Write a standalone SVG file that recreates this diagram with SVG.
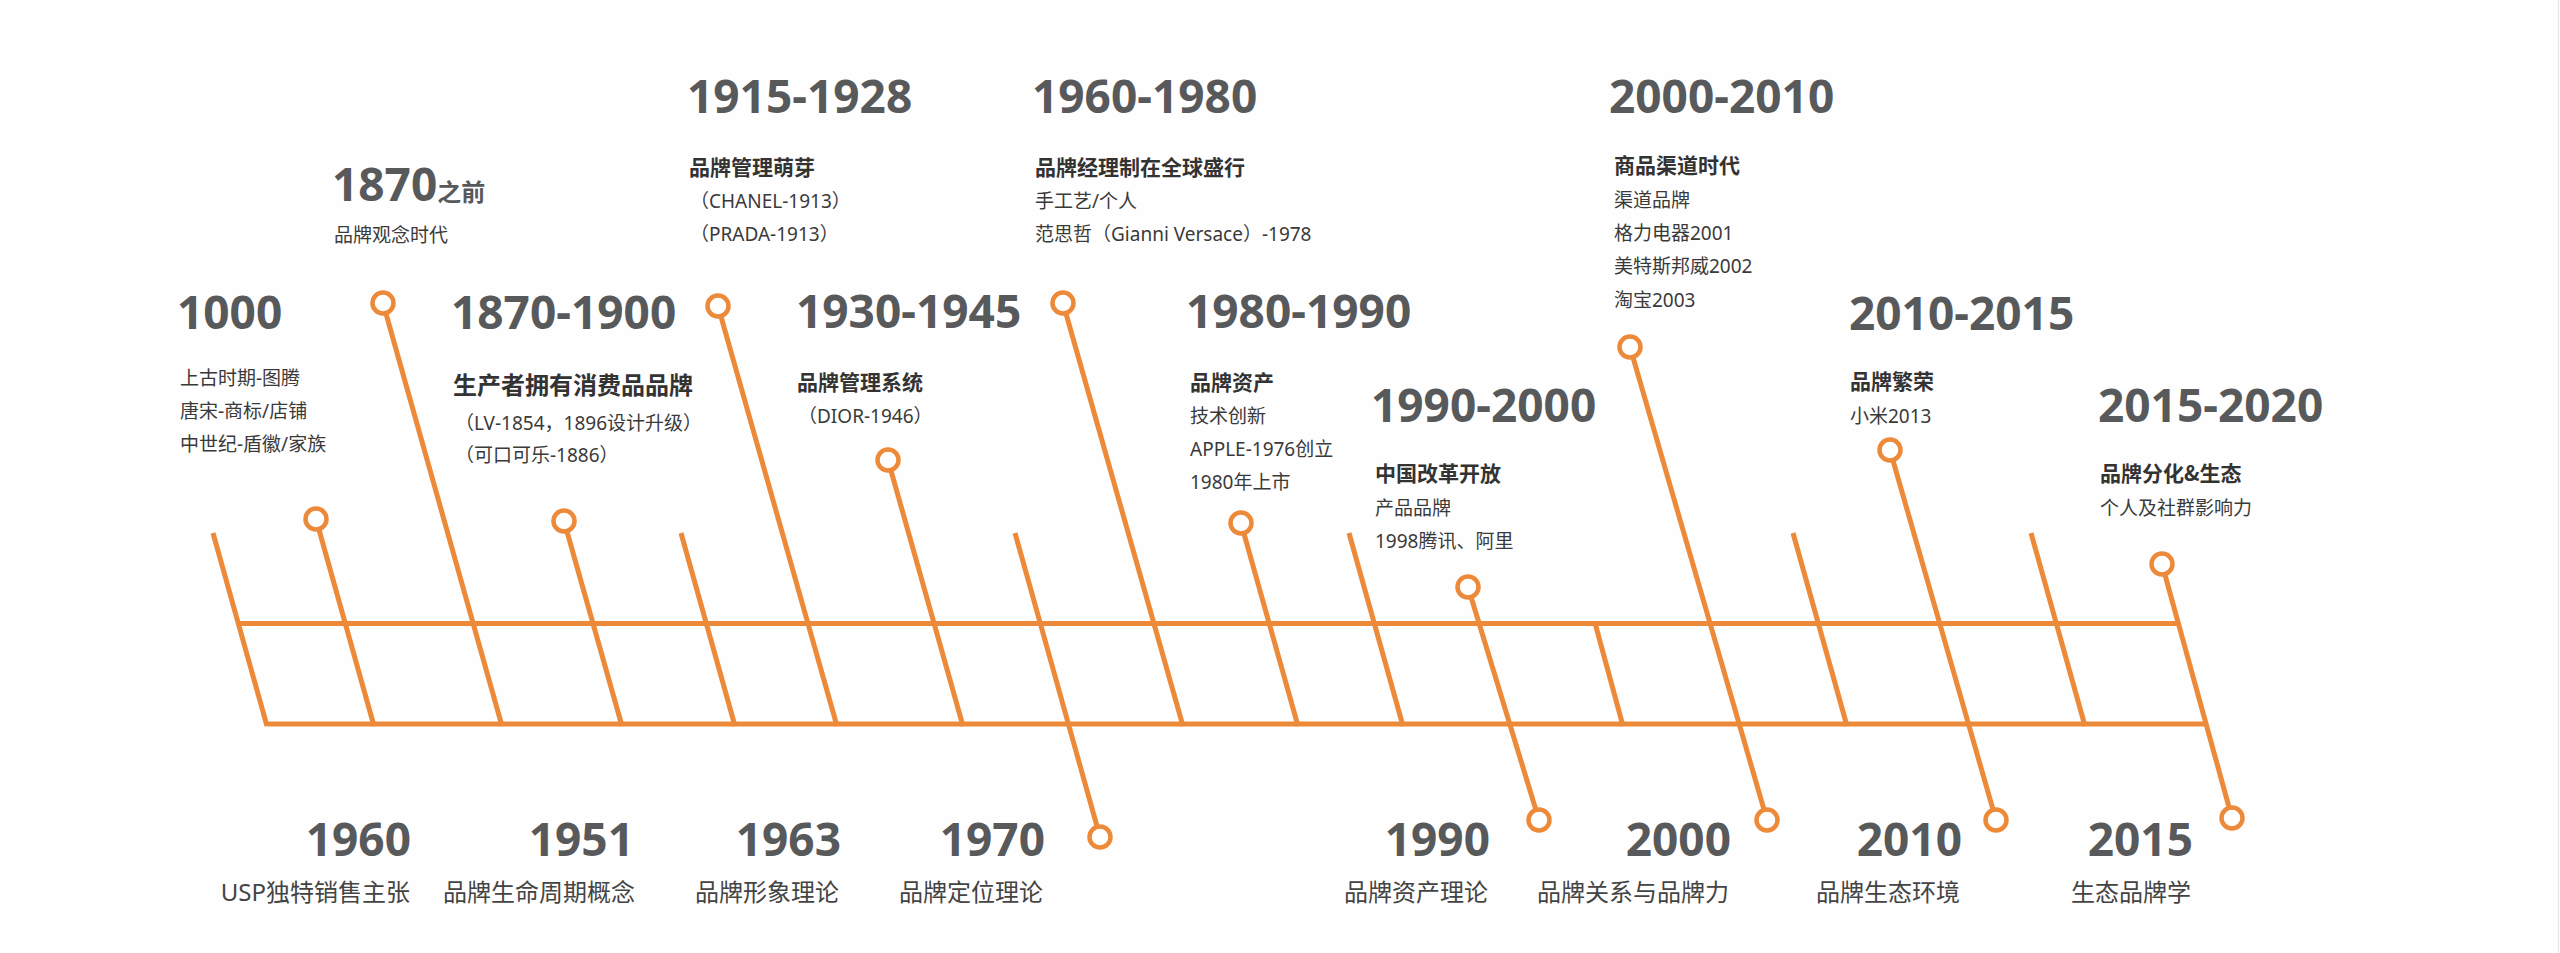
<svg xmlns="http://www.w3.org/2000/svg" width="2560" height="953" viewBox="0 0 2560 953">
<style>
.ln{stroke:#ED8A3A;stroke-width:5;fill:none;stroke-linecap:butt}
.dot{stroke:#ED8A3A;stroke-width:4.5;fill:#fff}
.yr{font-family:"Noto Sans","Noto Sans CJK SC",sans-serif;font-weight:700;font-size:46px;fill:#58595b}
.yrs{font-size:24px}
.hd{font-family:"Noto Sans CJK SC","Noto Sans",sans-serif;font-weight:700;font-size:21px;fill:#333}
.hdl{font-size:24px}
.tx{font-family:"Noto Sans","Noto Sans CJK SC",sans-serif;font-size:19px;fill:#3a3a3a}
.bl{font-family:"Noto Sans","Noto Sans CJK SC",sans-serif;font-size:24px;fill:#444;text-anchor:end}
.end{text-anchor:end}
</style>
<rect width="2560" height="953" fill="#fefefe"/>
<line x1="2558.5" y1="0" x2="2558.5" y2="953" stroke="#e6e6e6" stroke-width="1"/>

<g id="connectors">
<line class="ln" x1="240" y1="623.5" x2="2177" y2="623.5"/>
<line class="ln" x1="267" y1="724" x2="2206" y2="724"/>
<line class="ln" x1="213" y1="533" x2="267" y2="726"/>
<line class="ln" x1="681" y1="533" x2="735" y2="726"/>
<line class="ln" x1="1349" y1="533" x2="1403" y2="726"/>
<line class="ln" x1="1793" y1="533" x2="1847" y2="726"/>
<line class="ln" x1="2031" y1="533" x2="2085" y2="726"/>
<line class="ln" x1="1595" y1="623" x2="1623" y2="726"/>
<line class="ln" x1="316" y1="519" x2="374" y2="726"/>
<line class="ln" x1="383" y1="303" x2="502" y2="726"/>
<line class="ln" x1="564" y1="521" x2="622" y2="726"/>
<line class="ln" x1="718" y1="306" x2="837" y2="726"/>
<line class="ln" x1="888" y1="460" x2="963" y2="726"/>
<line class="ln" x1="1063" y1="303" x2="1183" y2="726"/>
<line class="ln" x1="1241" y1="523" x2="1298" y2="726"/>
<line class="ln" x1="1015" y1="533" x2="1100" y2="837"/>
<line class="ln" x1="1468" y1="587" x2="1539" y2="820"/>
<line class="ln" x1="1630" y1="347" x2="1767" y2="820"/>
<line class="ln" x1="1890" y1="450" x2="1996" y2="820"/>
<line class="ln" x1="2162" y1="564" x2="2232" y2="818"/>
</g>

<g id="n1000">
<circle class="dot" cx="316" cy="519" r="10.5"/>
<text class="yr" x="177" y="329">1000</text>
<text class="tx" x="180" y="385">上古时期-图腾</text>
<text class="tx" x="180" y="418">唐宋-商标/店铺</text>
<text class="tx" x="180" y="451">中世纪-盾徽/家族</text>
</g>

<g id="n1870before">
<circle class="dot" cx="383" cy="303" r="10.5"/>
<text class="yr" x="332" y="201">1870<tspan class="yrs">之前</tspan></text>
<text class="tx" x="334" y="242">品牌观念时代</text>
</g>

<g id="n1870_1900">
<circle class="dot" cx="564" cy="521" r="10.5"/>
<text class="yr" x="451" y="329">1870-1900</text>
<text class="hd hdl" x="453" y="394">生产者拥有消费品品牌</text>
<text class="tx" x="455" y="430">（LV-1854，1896设计升级）</text>
<text class="tx" x="455" y="462">（可口可乐-1886）</text>
</g>

<g id="n1915_1928">
<circle class="dot" cx="718" cy="306" r="10.5"/>
<text class="yr" x="687" y="113">1915-1928</text>
<text class="hd" x="689" y="175">品牌管理萌芽</text>
<text class="tx" x="690" y="208">（CHANEL-1913）</text>
<text class="tx" x="690" y="241">（PRADA-1913）</text>
</g>

<g id="n1930_1945">
<circle class="dot" cx="888" cy="460" r="10.5"/>
<text class="yr" x="796" y="328">1930-1945</text>
<text class="hd" x="797" y="390">品牌管理系统</text>
<text class="tx" x="798" y="423">（DIOR-1946）</text>
</g>

<g id="n1960_1980">
<circle class="dot" cx="1063" cy="303" r="10.5"/>
<text class="yr" x="1032" y="113">1960-1980</text>
<text class="hd" x="1035" y="175">品牌经理制在全球盛行</text>
<text class="tx" x="1035" y="208">手工艺/个人</text>
<text class="tx" x="1035" y="241">范思哲（Gianni Versace）-1978</text>
</g>

<g id="n1980_1990">
<circle class="dot" cx="1241" cy="523" r="10.5"/>
<text class="yr" x="1186" y="328">1980-1990</text>
<text class="hd" x="1190" y="390">品牌资产</text>
<text class="tx" x="1190" y="423">技术创新</text>
<text class="tx" x="1190" y="456">APPLE-1976创立</text>
<text class="tx" x="1190" y="489">1980年上市</text>
</g>

<g id="n1990_2000">
<circle class="dot" cx="1468" cy="587" r="10.5"/>
<text class="yr" x="1371" y="422">1990-2000</text>
<text class="hd" x="1375" y="481">中国改革开放</text>
<text class="tx" x="1375" y="515">产品品牌</text>
<text class="tx" x="1375" y="548">1998腾讯、阿里</text>
</g>

<g id="n2000_2010">
<circle class="dot" cx="1630" cy="347" r="10.5"/>
<text class="yr" x="1609" y="113">2000-2010</text>
<text class="hd" x="1614" y="173">商品渠道时代</text>
<text class="tx" x="1614" y="207">渠道品牌</text>
<text class="tx" x="1614" y="240">格力电器2001</text>
<text class="tx" x="1614" y="273">美特斯邦威2002</text>
<text class="tx" x="1614" y="307">淘宝2003</text>
</g>

<g id="n2010_2015">
<circle class="dot" cx="1890" cy="450" r="10.5"/>
<text class="yr" x="1849" y="330">2010-2015</text>
<text class="hd" x="1850" y="389">品牌繁荣</text>
<text class="tx" x="1850" y="423">小米2013</text>
</g>

<g id="n2015_2020">
<circle class="dot" cx="2162" cy="564" r="10.5"/>
<text class="yr" x="2098" y="422">2015-2020</text>
<text class="hd" x="2100" y="481">品牌分化&amp;生态</text>
<text class="tx" x="2100" y="515">个人及社群影响力</text>
</g>

<g id="b1960">
<text class="yr end" x="411" y="856">1960</text>
<text class="bl" x="410" y="901">USP独特销售主张</text>
</g>
<g id="b1951">
<text class="yr end" x="634" y="856">1951</text>
<text class="bl" x="635" y="901">品牌生命周期概念</text>
</g>
<g id="b1963">
<text class="yr end" x="841" y="856">1963</text>
<text class="bl" x="839" y="901">品牌形象理论</text>
</g>
<g id="b1970">
<circle class="dot" cx="1100" cy="837" r="10.5"/>
<text class="yr end" x="1045" y="856">1970</text>
<text class="bl" x="1043" y="901">品牌定位理论</text>
</g>
<g id="b1990">
<circle class="dot" cx="1539" cy="820" r="10.5"/>
<text class="yr end" x="1490" y="856">1990</text>
<text class="bl" x="1488" y="901">品牌资产理论</text>
</g>
<g id="b2000">
<circle class="dot" cx="1767" cy="820" r="10.5"/>
<text class="yr end" x="1731" y="856">2000</text>
<text class="bl" x="1729" y="901">品牌关系与品牌力</text>
</g>
<g id="b2010">
<circle class="dot" cx="1996" cy="820" r="10.5"/>
<text class="yr end" x="1962" y="856">2010</text>
<text class="bl" x="1960" y="901">品牌生态环境</text>
</g>
<g id="b2015">
<circle class="dot" cx="2232" cy="818" r="10.5"/>
<text class="yr end" x="2193" y="856">2015</text>
<text class="bl" x="2191" y="901">生态品牌学</text>
</g>
</svg>
